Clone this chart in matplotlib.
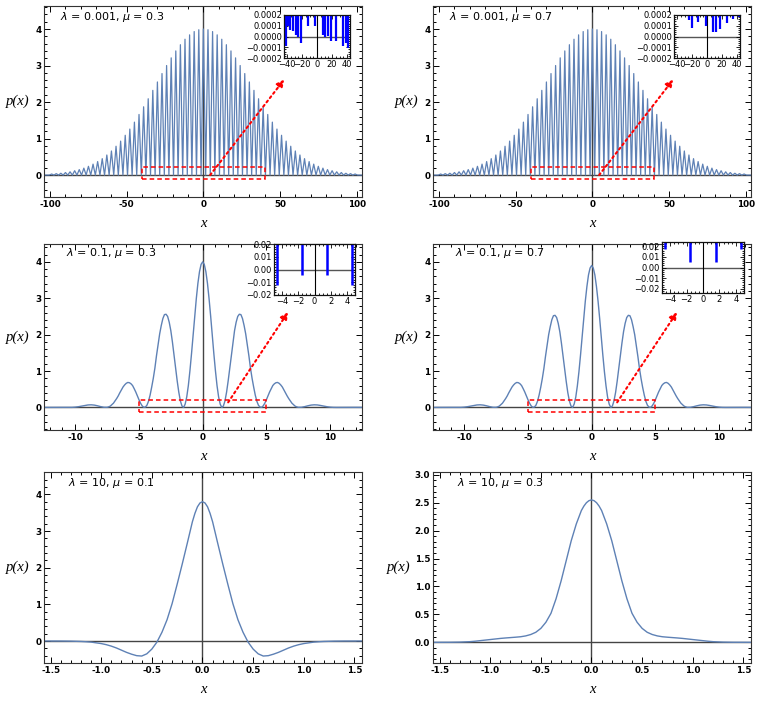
import numpy as np
import matplotlib.pyplot as plt
from matplotlib.patches import Rectangle

plt.rcParams['font.family'] = 'DejaVu Sans'
plt.rcParams['mathtext.fontset'] = 'dejavusans'

CURVE = '#5E81B5'

# ---- values ----
# top row (lambda = 0.001): the curve is a comb of lobes, peak every 3 units,
# going to zero in between; heights for x = 0, 3, 6, ... 99 (symmetric in x)
top_peak_step = 3.0
top_peak_h = [4.00, 3.98, 3.93, 3.84, 3.72, 3.57, 3.40, 3.21, 3.00, 2.78,
              2.55, 2.32, 2.09, 1.87, 1.66, 1.45, 1.26, 1.09, 0.93, 0.79,
              0.66, 0.55, 0.45, 0.37, 0.30, 0.24, 0.19, 0.15, 0.12, 0.09,
              0.07, 0.05, 0.04, 0.03]

# middle row (lambda = 0.1), half curve for x >= 0, sampled finer over the big lobes
mid_x = np.r_[np.arange(0, 7.5001, 0.125), np.arange(7.75, 10.51, 0.25), [11, 11.5, 12, 12.5, 13]]
mid_y_mu03 = [4.00, 3.93, 3.73, 3.41, 2.99, 2.51, 1.99, 1.48, 1.01, 0.60, 0.29, 0.09, 0.00,
              0.04, 0.18, 0.42, 0.73, 1.08, 1.44, 1.80, 2.11, 2.34, 2.50, 2.56, 2.55,
              2.44, 2.25, 2.02, 1.72, 1.42, 1.08, 0.80, 0.56, 0.34, 0.17, 0.06, 0.01,
              0.004, 0.044, 0.117, 0.213, 0.317, 0.424, 0.516, 0.601, 0.650, 0.679,
              0.686, 0.662, 0.618, 0.561, 0.480, 0.404, 0.317, 0.244, 0.181, 0.117,
              0.075, 0.036, 0.016, 0.003,
              0.004, 0.022, 0.045, 0.064, 0.072, 0.068, 0.054, 0.036, 0.020, 0.008,
              0.002, 0.0005,
              0.002, 0.003, 0.002, 0.001, 0.0]
mid_y_mu07 = [3.90, 3.83, 3.64, 3.32, 2.92, 2.45, 1.94, 1.44, 0.98, 0.59, 0.28, 0.09, 0.00,
              0.04, 0.18, 0.41, 0.72, 1.06, 1.42, 1.77, 2.08, 2.31, 2.47, 2.53, 2.52,
              2.41, 2.22, 2.00, 1.70, 1.40, 1.07, 0.79, 0.55, 0.34, 0.17, 0.06, 0.01,
              0.004, 0.044, 0.117, 0.213, 0.317, 0.424, 0.516, 0.601, 0.650, 0.679,
              0.686, 0.662, 0.618, 0.561, 0.480, 0.404, 0.317, 0.244, 0.181, 0.117,
              0.075, 0.036, 0.016, 0.003,
              0.004, 0.022, 0.045, 0.064, 0.072, 0.068, 0.054, 0.036, 0.020, 0.008,
              0.002, 0.0005,
              0.002, 0.003, 0.002, 0.001, 0.0]

# bottom row (lambda = 10), half curve for x >= 0
bot_x = [0, 0.025, 0.05, 0.075, 0.1, 0.15, 0.2, 0.25, 0.3, 0.35, 0.4, 0.45, 0.5,
         0.55, 0.6, 0.65, 0.7, 0.75, 0.8, 0.85, 0.9, 0.95, 1.0, 1.05, 1.1, 1.15,
         1.2, 1.3, 1.4, 1.6]
bot_y_mu01 = [3.80, 3.765, 3.66, 3.48, 3.25, 2.67, 2.10, 1.55, 1.02, 0.58, 0.24,
              -0.03, -0.22, -0.35, -0.41, -0.40, -0.36, -0.31, -0.25, -0.19, -0.14,
              -0.10, -0.07, -0.05, -0.03, -0.02, -0.012, -0.004, -0.001, 0.0]
bot_y_mu03 = [2.55, 2.537, 2.50, 2.44, 2.36, 2.12, 1.82, 1.46, 1.10, 0.78, 0.52,
              0.36, 0.25, 0.18, 0.14, 0.115, 0.10, 0.092, 0.085, 0.078, 0.07,
              0.06, 0.05, 0.04, 0.03, 0.02, 0.012, 0.004, 0.001, 0.0]

# insets: position of each near-zero dip and the lowest value it reaches
ins_tl_x = [-41.7, -39, -35.6, -32, -28.3, -25.6, -21.7, -11.7, -3, 7.8, 10.4,
            14.3, 18.7, 25.2, 35.2, 38.3, 41.3]
ins_tl_y = [-0.000088, 0.000094, 0.000057, 0.000047, 0.000016, -0.000006,
            -0.000057, 0.0001, 0.000094, 0.000016, 0.0, 0.000005, -0.000038,
            -0.000038, -0.000088, -0.000063, -0.00011]
ins_tr_x = [-24.5, -20.5, -12, -1.5, 8.5, 11.5, 17.8, 26, 35, 42]
ins_tr_y = [0.000155, 0.00008, 0.000135, 0.0001, 0.00004, 0.00004, 0.00007,
            0.000125, 0.00016, 0.00018]
ins_ml_x = [-4.6, -1.55, 1.55, 4.6]
ins_ml_y = [-0.012, -0.004, -0.004, -0.012]
ins_mr_x = [-4.6, -1.55, 1.55, 4.6]
ins_mr_y = [0.017, 0.005, 0.005, 0.017]

labels = [r'$\lambda$ = 0.001, $\mu$ = 0.3', r'$\lambda$ = 0.001, $\mu$ = 0.7',
          r'$\lambda$ = 0.1, $\mu$ = 0.3', r'$\lambda$ = 0.1, $\mu$ = 0.7',
          r'$\lambda$ = 10, $\mu$ = 0.1', r'$\lambda$ = 10, $\mu$ = 0.3']

top_xticks = [-100, -50, 0, 50, 100]
mid_xticks = [-10, -5, 0, 5, 10]
bot_xticks = [-1.5, -1.0, -0.5, 0.0, 0.5, 1.0, 1.5]
int_yticks = [0, 1, 2, 3, 4]
half_yticks = [0.0, 0.5, 1.0, 1.5, 2.0, 2.5, 3.0]


def mirror(x, y):
    x = np.asarray(x, float)
    y = np.asarray(y, float)
    return np.concatenate([-x[:0:-1], x]), np.concatenate([y[:0:-1], y])


def comb(heights, step, xmax):
    h = np.asarray(heights, float)
    k = np.arange(len(h))
    px = np.concatenate([-k[:0:-1] * step, k * step])
    ph = np.concatenate([h[:0:-1], h])
    xs, ys = [-xmax], [0.0]
    for x, v in zip(px, ph):
        xs += [x - step / 2, x]
        ys += [0.0, v]
    xs += [px[-1] + step / 2, xmax]
    ys += [0.0, 0.0]
    return np.array(xs), np.array(ys)


W, H = 759, 701
fig = plt.figure(figsize=(W / 100, H / 100), dpi=100)


def px_axes(l, t, r, b):
    return fig.add_axes([l / W, 1 - b / H, (r - l) / W, (b - t) / H])


def minor_ticks(lo, hi, step):
    n0 = int(np.ceil(lo / step - 1e-9))
    n1 = int(np.floor(hi / step + 1e-9))
    return np.arange(n0, n1 + 1) * step


def style_main(ax, xlim, ylim, xt, xfmt, xminor, yt, yfmt, yminor, ylab_x=-0.082):
    ax.set_xticks(xt)
    ax.set_xticklabels([xfmt.format(v) for v in xt], fontsize=6.3, fontweight='bold')
    ax.set_yticks(yt)
    ax.set_yticklabels([yfmt.format(v) for v in yt], fontsize=6.3, fontweight='bold')
    ax.set_xticks(minor_ticks(*xlim, xminor), minor=True)
    ax.set_yticks(minor_ticks(*ylim, yminor), minor=True)
    ax.set_xlim(*xlim)
    ax.set_ylim(*ylim)
    ax.tick_params(which='both', direction='in', top=True, right=True, width=0.7, pad=2)
    ax.tick_params(which='major', length=4)
    ax.tick_params(which='minor', length=2)
    for s in ax.spines.values():
        s.set_linewidth(0.8)
        s.set_color('#333333')
    ax.axhline(0, color='#444444', lw=1.0, zorder=1)
    ax.axvline(0, color='#444444', lw=1.0, zorder=1)
    ax.set_ylabel('p(x)', rotation=0, fontsize=10.5, fontstyle='italic',
                  fontfamily='Liberation Serif', va='center', ha='center')
    ax.yaxis.set_label_coords(ylab_x, 0.5)
    ax.set_xlabel('x', fontsize=10.5, fontstyle='italic', fontfamily='Liberation Serif',
                  va='center')
    ax.xaxis.set_label_coords(0.5, -0.14)


def style_inset(ax, xlim, ylim, xt, xfmt, xminor, yt, yfmt, yminor):
    ax.set_xticks(xt)
    ax.set_xticklabels([xfmt.format(v).replace('-', '\u2212') for v in xt], fontsize=6)
    ax.set_yticks(yt)
    ax.set_yticklabels([yfmt.format(v).replace('-', '\u2212') for v in yt], fontsize=6)
    ax.set_xticks(minor_ticks(*xlim, xminor), minor=True)
    ax.set_yticks(minor_ticks(*ylim, yminor), minor=True)
    ax.set_xlim(*xlim)
    ax.set_ylim(*ylim)
    ax.tick_params(which='both', direction='in', top=True, right=True, width=0.6, pad=1.5)
    ax.tick_params(which='major', length=3)
    ax.tick_params(which='minor', length=1.5)
    for s in ax.spines.values():
        s.set_linewidth(0.9)
        s.set_color('#111111')
    ax.axhline(0, color='#555555', lw=1.0, zorder=1)
    ax.axvline(0, color='black', lw=0.8, zorder=1)


def zoom_marks(ax, rect, start, end):
    ax.add_patch(Rectangle((rect[0], rect[1]), rect[2] - rect[0], rect[3] - rect[1],
                           fill=False, ec='red', ls=(0, (3, 2)), lw=1.1, zorder=4))
    ax.annotate('', xy=end, xytext=start,
                arrowprops=dict(arrowstyle='-|>', color='red', lw=1.5,
                                linestyle=(0, (1, 1.6)), mutation_scale=11,
                                shrinkA=0, shrinkB=0), zorder=4)


col_l = (44, 362)
col_r = (433, 751)
rows = [(6, 197), (244, 430), (472, 663)]
LABEL_FS = 8.0

# ---- top row ----
tx, ty = comb(top_peak_h, top_peak_step, 110)
for i, (cl, ins_box, ix, iy) in enumerate([(col_l, (284, 15, 350, 58), ins_tl_x, ins_tl_y),
                                          (col_r, (674, 15, 740, 58), ins_tr_x, ins_tr_y)]):
    ax = px_axes(cl[0], rows[0][0], cl[1], rows[0][1])
    ax.plot(tx, ty, color=CURVE, lw=0.9, zorder=2)
    style_main(ax, (-104, 103.5), (-0.6, 4.63), top_xticks, '{:d}', 10,
               int_yticks, '{:d}', 0.2)
    ax.text(0.05, 0.945, labels[i], transform=ax.transAxes, fontsize=LABEL_FS, va='center')
    zoom_marks(ax, (-40, -0.12, 40, 0.22), (4.4, 0.0), (52.8, 2.62))
    ia = px_axes(*ins_box)
    ia.vlines(ix, iy, 1.0, color='blue', lw=1.6, zorder=2)
    style_inset(ia, (-44, 44), (-0.0002, 0.0002), [-40, -20, 0, 20, 40], '{:d}', 5,
                [-0.0002, -0.0001, 0.0, 0.0001, 0.0002], '{:.4f}', 0.00002)

# ---- middle row ----
for i, (cl, ins_box, yy, ix, iy, ylim_in, yt_in) in enumerate([
        (col_l, (274, 244, 355, 295), mid_y_mu03, ins_ml_x, ins_ml_y,
         (-0.02, 0.02), [-0.02, -0.01, 0.0, 0.01, 0.02]),
        (col_r, (662, 242, 744, 293), mid_y_mu07, ins_mr_x, ins_mr_y,
         (-0.024, 0.024), [-0.02, -0.01, 0.0, 0.01, 0.02])]):
    ax = px_axes(cl[0], rows[1][0], cl[1], rows[1][1])
    mx, my = mirror(mid_x, yy)
    ax.plot(mx, my, color=CURVE, lw=1.0, zorder=2)
    style_main(ax, (-12.45, 12.5), (-0.62, 4.49), mid_xticks, '{:d}', 1,
               int_yticks, '{:d}', 0.2)
    ax.text(0.07, 0.95, labels[2 + i], transform=ax.transAxes, fontsize=LABEL_FS, va='center')
    zoom_marks(ax, (-5, -0.13, 5, 0.2), (2.0, 0.14), (6.7, 2.62))
    ia = px_axes(*ins_box)
    ia.vlines(ix, iy, 1.0, color='blue', lw=1.8, zorder=2)
    style_inset(ia, (-5, 5), ylim_in, [-4, -2, 0, 2, 4], '{:d}', 0.5,
                yt_in, '{:.2f}', 0.002)

# ---- bottom row ----
for i, (cl, yy, ylim, yt, yfmt, yminor, ylab_x) in enumerate([
        (col_l, bot_y_mu01, (-0.6, 4.61), int_yticks, '{:d}', 0.2, -0.082),
        (col_r, bot_y_mu03, (-0.37, 3.05), half_yticks, '{:.1f}', 0.1, -0.107)]):
    ax = px_axes(cl[0], rows[2][0], cl[1], rows[2][1])
    bx, by = mirror(bot_x, yy)
    ax.plot(bx, by, color=CURVE, lw=1.0, zorder=2)
    style_main(ax, (-1.565, 1.575), ylim, bot_xticks, '{:.1f}', 0.1,
               yt, yfmt, yminor, ylab_x)
    ax.text(0.075, 0.94, labels[4 + i], transform=ax.transAxes, fontsize=LABEL_FS, va='center')

fig.savefig('out.png', dpi=100)
